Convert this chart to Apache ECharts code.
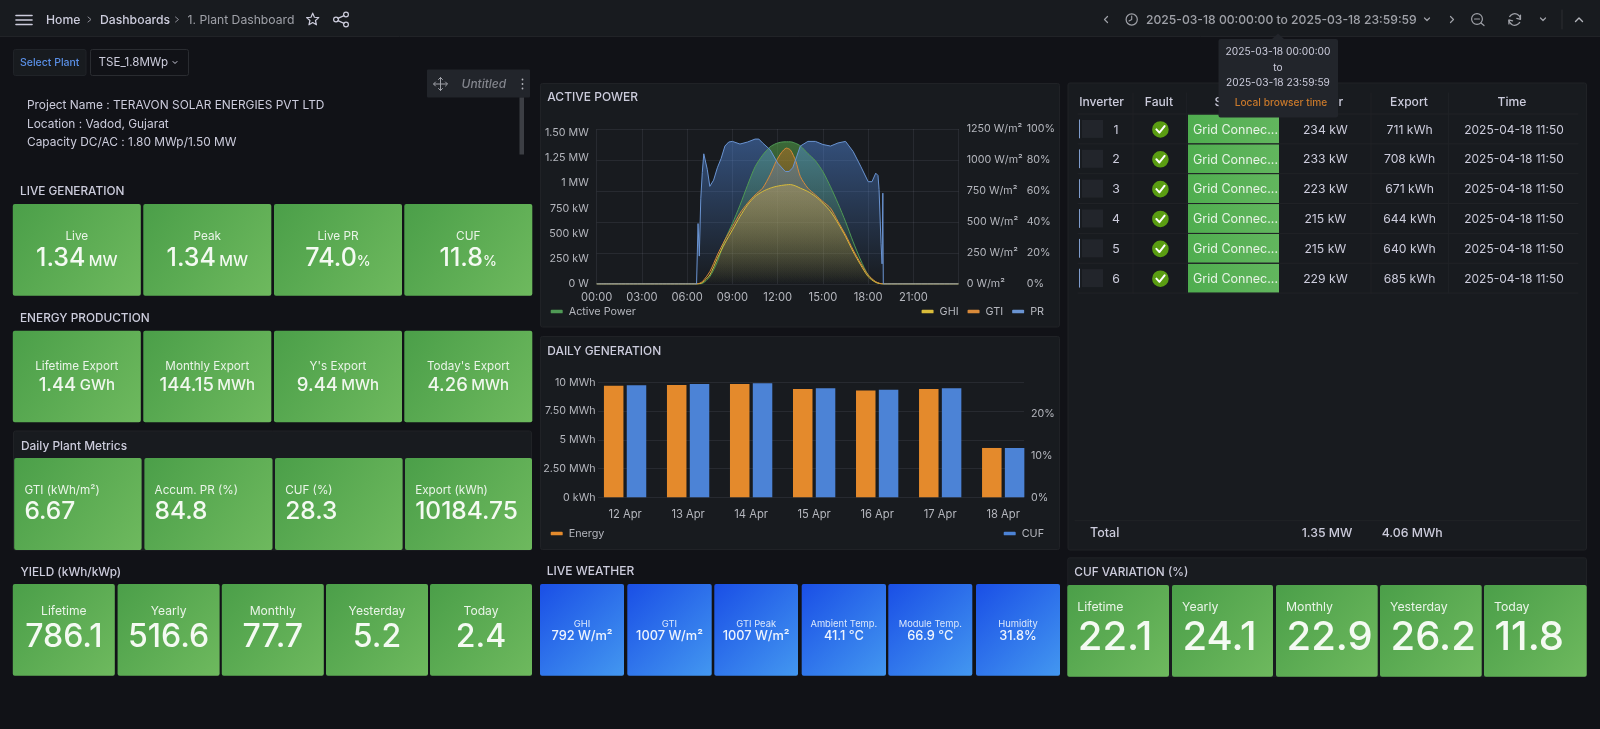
<!DOCTYPE html>
<html><head><meta charset="utf-8">
<style>html,body{margin:0;padding:0;background:#111217;overflow:hidden}#c{width:1600px;height:729px}</style>
<script src="https://cdn.jsdelivr.net/npm/echarts@6/dist/echarts.min.js"></script>
</head><body><div id="c"></div>
<script>
// ---------- chart data ----------
var hours      = [0,6.65,7,7.5,8,8.5,9,9.5,10,10.5,11,11.5,11.9,12.25,12.58,12.85,13.2,13.5,14,14.5,15,15.5,16,16.5,17,17.5,18,18.5,19,23.98];
var activeKw   = [0,0,5,73,221,436,601,782,980,1163,1279,1361,1394,1408,1411,1411,1395,1371,1295,1223,1114,965,799,618,419,238,89,17,0,0];
var ghiWm2     = [0,0,11,73,207,329,436,544,638,706,746,773,787,795,800,802,790,773,746,706,652,585,490,383,261,154,59,13,0,0];
var gtiWm2     = [0,0,19,100,234,356,463,571,652,719,773,881,990,1060,1096,1080,990,867,773,719,665,612,504,396,275,167,73,19,0,0];
var prHours    = [0,6.62,6.72,6.75,6.8,6.9,7,7.1,7.2,7.33,7.5,7.75,8,8.25,8.5,8.75,9,9.5,10,10.5,10.75,11,11.5,12,12.5,12.75,13,13.25,13.5,14,14.5,15,15.5,16,16.5,17,17.5,18,18.25,18.5,18.65,18.72,18.85,18.92,18.97,19,23.98];
var prPct      = [0,0,39,39,18,55,72,84,85,74,63,67,75,81,89,91.6,92,90.3,91.6,93.5,93.5,91,86.6,78,72.6,72.6,75,82,89,92,92,90,89,91,92,85.5,76,66,66,71.5,70,61,26,13,58.6,0,0];
var powerTicks = [0,250,500,750,1000,1250,1500];
var powerTickLabels = ['0 W','250 kW','500 kW','750 kW','1 MW','1.25 MW','1.50 MW'];
var irrTicks   = [0,250,500,750,1000,1250];
var days       = ['12 Apr','13 Apr','14 Apr','15 Apr','16 Apr','17 Apr','18 Apr'];
var dayEnergy  = [9.71,9.77,9.86,9.42,9.28,9.42,4.29];
var dayCuf     = [26.7,27.0,27.2,26.0,25.6,26.0,11.75];
var energyTickLabels = ['0 kWh','2.50 MWh','5 MWh','7.50 MWh','10 MWh'];

// ---------- panel texts ----------
var liveLabels = ['Live','Peak','Live PR','CUF'];
var liveValues = ['1.34','1.34','74.0','11.8'];
var liveUnits  = ['MW','MW','%','%'];
var prodLabels = ['Lifetime Export','Monthly Export',"Y's Export","Today's Export"];
var prodValues = ['1.44','144.15','9.44','4.26'];
var prodUnits  = ['GWh','MWh','MWh','MWh'];
var metricLabels = ['GTI (kWh/m²)','Accum. PR (%)','CUF (%)','Export (kWh)'];
var metricValues = ['6.67','84.8','28.3','10184.75'];
var periodLabels = ['Lifetime','Yearly','Monthly','Yesterday','Today'];
var yieldValues  = ['786.1','516.6','77.7','5.2','2.4'];
var cufValues    = ['22.1','24.1','22.9','26.2','11.8'];
var weatherLabels = ['GHI','GTI','GTI Peak','Ambient Temp.','Module Temp.','Humidity'];
var weatherValues = ['792 W/m²','1007 W/m²','1007 W/m²','41.1 °C','66.9 °C','31.8%'];
var tableHeaders = ['Inverter','Fault','Status','Power','Export','Time'];
var invIds    = [1,2,3,4,5,6];
var invStatus = ['Grid Connec...','Grid Connec...','Grid Connec...','Grid Connec...','Grid Connec...','Grid Connec...'];
var invPower  = ['234 kW','233 kW','223 kW','215 kW','215 kW','229 kW'];
var invExport = ['711 kWh','708 kWh','671 kWh','644 kWh','640 kWh','685 kWh'];
var invTime   = ['2025-04-18 11:50','2025-04-18 11:50','2025-04-18 11:50','2025-04-18 11:50','2025-04-18 11:50','2025-04-18 11:50'];
var totalPower = '1.35 MW', totalExport = '4.06 MWh';
var infoLines = ['Project Name : TERAVON SOLAR ENERGIES PVT LTD','Location : Vadod, Gujarat','Capacity DC/AC : 1.80 MWp/1.50 MW'];
var timeRange = '2025-03-18 00:00:00 to 2025-03-18 23:59:59';

// ---------- drawing helpers ----------
var FONT='Inter', TXT='#ccccdc', G=[];
function T(s,x,y,o){o=o||{};G.push({type:'text',silent:true,z:o.z||1,x:x,y:y+1,style:{text:s,fill:o.c||TXT,fontFamily:FONT,fontSize:o.s||12.3,fontWeight:o.w||400,fontStyle:o.i?'italic':'normal',align:o.a||'left',verticalAlign:'middle',rich:o.rich}});}
function R(x,y,w,h,f,o){o=o||{};G.push({type:'rect',silent:true,z:o.z||0,shape:{x:x,y:y,width:w,height:h,r:o.r||0},style:{fill:f,stroke:o.st||null,lineWidth:o.st?1:0}});}
function L(p,c,w,o){o=o||{};G.push({type:'polyline',silent:true,z:o.z||1,shape:{points:p},style:{stroke:c,lineWidth:w||1,fill:null,lineCap:'round',lineJoin:'round'}});}
function C(x,y,r,f,st,w,o){o=o||{};G.push({type:'circle',silent:true,z:o.z||1,shape:{cx:x,cy:y,r:r},style:{fill:f||null,stroke:st||null,lineWidth:w||0}});}
function grad(a,b){return {type:'linear',x:0,y:0,x2:1,y2:1,colorStops:[{offset:0,color:a},{offset:1,color:b}]};}
var GREEN=grad('#4b9f49','#6eb95e'), BLUE=grad('#1a4fe6','#4397f0');
function panel(x,y,w,h){R(x+.5,y+.5,w-1,h-1,'#181b1f',{r:2,st:'#202226'});}
function tile(x,y,w,h,f){R(x,y,w,h,f,{r:2,z:0});}

// ---------- top bar ----------
R(0,0,1600,36,'#181b1f');
L([[0,36.5],[1600,36.5]],'#212327',1);
[15.5,20,24.5].forEach(function(y){L([[16,y],[32,y]],TXT,1.6);});
T('Home',46,19,{s:12.2,w:500});
L([[88,17],[91,19.5],[88,22]],'#8e8e98',1);
T('Dashboards',100,19,{s:12.2,w:500});
L([[175.5,17],[178.5,19.5],[175.5,22]],'#8e8e98',1);
T('1. Plant Dashboard',187.5,19,{s:12.2,c:'#9fa1a8'});
var star=[];for(var k=0;k<10;k++){var rr=k%2?2.9:6.4,an=-Math.PI/2+k*Math.PI/5;star.push([312.7+rr*Math.cos(an),19.6+rr*Math.sin(an)]);}star.push(star[0]);L(star,TXT,1.2);
C(336,19.5,2.4,null,TXT,1.2);C(346,14.5,2.4,null,TXT,1.2);C(346,24.5,2.4,null,TXT,1.2);L([[338,18.4],[344,15.6]],TXT,1.2);L([[338,20.6],[344,23.4]],TXT,1.2);
L([[1107.5,16.5],[1104.5,19.5],[1107.5,22.5]],'#9fa1a8',1.2);
C(1131.7,19.5,5.6,null,'#9fa1a8',1.2);L([[1131.7,16],[1131.7,19.5],[1129,21]],'#9fa1a8',1.1);
T(timeRange,1146,19,{s:12.15,w:500,c:'#9fa1a8'});
L([[1424.5,18],[1427,20.5],[1429.5,18]],'#9fa1a8',1.2);
L([[1450.5,16.5],[1453.5,19.5],[1450.5,22.5]],'#9fa1a8',1.2);
C(1477,19,5.4,null,'#9fa1a8',1.2);L([[1474.5,19],[1479.5,19]],'#9fa1a8',1.1);L([[1481,23],[1484,25.5]],'#9fa1a8',1.2);
G.push({type:'arc',silent:true,z:1,shape:{cx:1514.7,cy:19.5,r:5.8,startAngle:-2.7,endAngle:-0.1},style:{stroke:'#9fa1a8',lineWidth:1.3,fill:null}});
G.push({type:'arc',silent:true,z:1,shape:{cx:1514.7,cy:19.5,r:5.8,startAngle:0.45,endAngle:3.05},style:{stroke:'#9fa1a8',lineWidth:1.3,fill:null}});
L([[1520.5,15],[1520.5,19.3],[1516.8,18.3]],'#9fa1a8',1.2);L([[1508.9,24],[1508.9,19.8],[1512.6,20.8]],'#9fa1a8',1.2);
L([[1540.5,18],[1543,20.5],[1545.5,18]],'#9fa1a8',1.2);
L([[1562,10],[1562,29]],'#2c2e33',1);
L([[1575.5,21.5],[1579,18],[1582.5,21.5]],'#b4b6bd',1.4);

// ---------- plant selector and info ----------
R(13.5,49.5,72.5,26,'#181b1f',{r:2,st:'#202328'});
T('Select Plant',49.7,62,{s:10.5,w:500,a:'center',c:'#5a8fe6'});
R(90.5,49.5,98,26,'#111217',{r:2,st:'#2a2c31'});
T('TSE_1.8MWp',98.5,62,{s:11.6});
L([[173,61.5],[175,63.5],[177,61.5]],TXT,1);
infoLines.forEach(function(s,i){T(s,27,[105.3,123.7,142][i]-.5,{s:11.9});});
R(427,69.5,103,28,'#22252b',{r:1});
L([[434,84],[447,84]],'#9fa1a8',1);L([[440.5,77.5],[440.5,90.5]],'#9fa1a8',1);
L([[435.5,82],[433.5,84],[435.5,86]],'#9fa1a8',1);L([[445.5,82],[447.5,84],[445.5,86]],'#9fa1a8',1);L([[438.5,79.5],[440.5,77.5],[442.5,79.5]],'#9fa1a8',1);L([[438.5,88.5],[440.5,90.5],[442.5,88.5]],'#9fa1a8',1);
T('Untitled',461.5,83.5,{s:12,i:true,w:500,c:'#83858d'});
[79.5,84,88.5].forEach(function(y){C(522.5,y,.9,'#b4b6bd');});
R(519.5,97.5,4.5,57,'#3c3e44');

// ---------- left column tiles ----------
var rowX=[12.8,143.3,274,404.3], rowW=128;
T('LIVE GENERATION',20,190.7,{s:11.8,w:500});
liveLabels.forEach(function(l,i){
  tile(rowX[i],204,rowW,91.7,GREEN);
  T(l,rowX[i]+rowW/2,235,{s:11.8,a:'center',c:'#eaf4e8'});
  T('{v|'+liveValues[i]+'}'+(liveUnits[i].length>1?' ':'')+'{u|'+liveUnits[i]+'}',rowX[i]+rowW/2,257.5,{a:'center',rich:{
    v:{fontFamily:FONT,fontSize:25,fontWeight:500,fill:'#f4faf2',color:'#f4faf2'},
    u:{fontFamily:FONT,fontSize:liveUnits[i].length>1?15:14,fontWeight:500,fill:'#f4faf2',color:'#f4faf2',verticalAlign:'bottom',padding:[0,0,2,0]}}});
});
T('ENERGY PRODUCTION',20,317.3,{s:11.8,w:500});
prodLabels.forEach(function(l,i){
  tile(rowX[i],330.7,rowW,91.6,GREEN);
  T(l,rowX[i]+rowW/2,365,{s:11.7,a:'center',c:'#eaf4e8'});
  T('{v|'+prodValues[i]+'} {u|'+prodUnits[i]+'}',rowX[i]+rowW/2,384,{a:'center',rich:{
    v:{fontFamily:FONT,fontSize:18.5,fontWeight:500,fill:'#f0f7ee',color:'#f0f7ee'},
    u:{fontFamily:FONT,fontSize:15,fontWeight:500,fill:'#f0f7ee',color:'#f0f7ee'}}});
});
panel(13,430.5,519,120);
T('Daily Plant Metrics',21,445,{s:11.9,w:500});
var mX=[14.2,144.4,275,405], mW=[127.4,128.1,127.6,127];
metricLabels.forEach(function(l,i){
  tile(mX[i],458,mW[i],92,GREEN);
  T(l,mX[i]+10.2,489,{s:11.7,c:'#eaf4e8'});
  T(metricValues[i],mX[i]+10.2,510.7,{s:24.5,w:500,c:'#f4faf2'});
});
T('YIELD (kWh/kWp)',20.5,571,{s:11.8,w:500});
var yX=[12.8,117.6,221.8,326,430], yW=102;
periodLabels.forEach(function(l,i){
  tile(yX[i],584,yW,91.7,GREEN);
  T(l,yX[i]+yW/2,610.7,{s:12.1,a:'center',c:'#eaf4e8'});
  T(yieldValues[i],yX[i]+yW/2,636.7,{s:32,w:500,a:'center',c:'#f4faf2'});
});

// ---------- middle column ----------
panel(540,83,520,244.5);
T('ACTIVE POWER',547.3,96.7,{s:12,w:500});
panel(540,336,520,214);
T('DAILY GENERATION',547.3,350,{s:11.9,w:500});
T('LIVE WEATHER',546.7,570.7,{s:12,w:500});
var wX=[540,627.3,714.3,801.7,888.3,976], wW=[84,84.4,83.7,84.3,84,84];
weatherLabels.forEach(function(l,i){
  tile(wX[i],584,wW[i],91.7,BLUE);
  T(l,wX[i]+wW[i]/2,622.7,{s:9.4,a:'center',c:'#dbe8fb'});
  T(weatherValues[i],wX[i]+wW[i]/2,635,{s:12.8,w:500,a:'center',c:'#eef4fd'});
});

// ---------- right column: table ----------
panel(1067.5,82.5,519.5,468);
var colC=[1101.6,1159,1233,1325,1409,1512];
tableHeaders.forEach(function(h,i){T(h,colC[i],101.7,{s:12.1,w:500,a:'center'});});
var rowH=29.85, rowTop=114;
L([[1078,114],[1578,114]],'#212327',1);
[1133,1186.6,1371,1448.5].forEach(function(x){L([[x,93],[x,114+6*rowH]],'#1e2125',1);});
invIds.forEach(function(id,i){
  var y0=rowTop+i*rowH, cy=y0+rowH/2;
  L([[1078,y0+rowH],[1578,y0+rowH]],'#212327',1);
  L([[1079.5,cy-9],[1079.5,cy+9]],'#7f9ccc',1);
  R(1082,cy-9,21,18,'#22252b');
  T(String(id),1116,cy,{s:12.3,a:'center'});
  C(1160.4,cy+.5,8.3,'#5a9d12');
  L([[1156.4,cy+.5],[1159.4,cy+3.7],[1164.6,cy-2.9]],'#ffffff',2);
  R(1188,y0+.4,91,rowH-.8,{type:'linear',x:0,y:0,x2:1,y2:0,colorStops:[{offset:0,color:'#4fad4f'},{offset:1,color:'#62b65e'}]});
  T(invStatus[i],1193,cy,{s:12.5,c:'#e8f3e6'});
  T(invPower[i],1325.4,cy,{s:12.2,a:'center'});
  T(invExport[i],1409.6,cy,{s:12.2,a:'center'});
  T(invTime[i],1514,cy,{s:12,a:'center'});
});
L([[1075,520.7],[1580,520.7]],'#212327',1);
T('Total',1090,532.3,{s:12.5,w:500});
T(totalPower,1301.7,532.3,{s:12.3,w:500});
T(totalExport,1381.7,532.3,{s:12.3,w:500});

panel(1067.3,557.3,519.7,119.5);
T('CUF VARIATION (%)',1074.3,571.7,{s:11.8,w:500});
var cX=[1067.3,1172,1276,1380,1484], cW=[101.7,101,101.7,101.7,102.7];
periodLabels.forEach(function(l,i){
  tile(cX[i],585,cW[i],91.7,GREEN);
  T(l,cX[i]+10,606.7,{s:12.3,c:'#eaf4e8'});
  T(cufValues[i],cX[i]+10.5,636.7,{s:40,w:500,c:'#f4faf2'});
});

// ---------- time tooltip ----------
G.push({type:'polygon',silent:true,z:9,shape:{points:[[1272,39],[1278,33.5],[1284,39]]},style:{fill:'#22252b'}});
R(1218.5,39,119.5,78.5,'#22252b',{r:2,z:9});
T('2025-03-18 00:00:00',1278,50.7,{s:10.2,a:'center',z:10});
T('to',1278,66.7,{s:10.2,a:'center',z:10});
T('2025-03-18 23:59:59',1278,82.3,{s:10.2,a:'center',z:10});
T('Local browser time',1281,102.3,{s:10.2,w:500,a:'center',c:'#c8782b',z:10});

// ---------- charts ----------
function pairs(xs,ys){return xs.map(function(x,i){return [x,ys[i]];});}
function vfade(rgb,top){return {type:'linear',x:0,y:0,x2:0,y2:1,colorStops:[{offset:0,color:'rgba('+rgb+','+top+')'},{offset:1,color:'rgba('+rgb+',0)'}]};}
function lineSeries(name,xs,ys,axis,color,rgb,top,smooth,w){
  return {name:name,type:'line',xAxisIndex:0,yAxisIndex:axis,data:pairs(xs,ys),showSymbol:false,symbol:'none',smooth:smooth,
    lineStyle:{color:color,width:w||1},itemStyle:{color:color},areaStyle:{color:vfade(rgb,top)},silent:true,animation:false,z:2};
}
var AX={color:'#b4b6bd',fontFamily:FONT,fontSize:10.7};
var AXX={color:'#b4b6bd',fontFamily:FONT,fontSize:11.2};
var LEG={color:'#b4b6bd',fontFamily:FONT,fontSize:10.8,padding:[0,0,0,1]};
var option={
  animation:false,
  backgroundColor:'#111217',
  graphic:{elements:G},
  grid:[
    {left:596.7,top:129,width:362,height:155},
    {left:598,top:382.3,width:426,height:115}
  ],
  xAxis:[
    {type:'value',gridIndex:0,min:0,max:24,interval:3,
     axisLine:{show:false},axisTick:{show:false},
     axisLabel:Object.assign({},AXX,{margin:8,showMaxLabel:false,formatter:function(v){return v>=24?'':(v<10?'0':'')+v+':00';}}),
     splitLine:{show:true,lineStyle:{color:'rgba(204,204,220,0.09)',width:1}}},
    {type:'value',gridIndex:1,min:-0.43,max:6.33,
     axisLine:{show:false},axisTick:{show:false},splitLine:{show:false},
     axisLabel:Object.assign({},AXX,{margin:12,customValues:days.map(function(d,i){return i;}),formatter:function(v){return days[v];}})}
  ],
  yAxis:[
    {type:'value',gridIndex:0,min:0,max:1538,interval:250,position:'left',
     axisLine:{show:false},axisTick:{show:false},splitLine:{show:false},
     axisLabel:Object.assign({},AX,{margin:8,padding:[2,0,0,0],formatter:function(v){var i=powerTicks.indexOf(v);return i<0?'':powerTickLabels[i];}})},
    {type:'value',gridIndex:0,min:0,max:1250,interval:250,position:'right',
     axisLine:{show:false},axisTick:{show:false},
     axisLabel:Object.assign({},AX,{margin:8,padding:[2,0,0,0],formatter:function(v){return irrTicks.indexOf(v)<0?'':v+' W/m²';}}),
     splitLine:{show:true,lineStyle:{color:'rgba(204,204,220,0.09)',width:1}}},
    {type:'value',gridIndex:0,min:0,max:100,interval:20,position:'right',offset:60,
     axisLine:{show:false},axisTick:{show:false},splitLine:{show:false},
     axisLabel:Object.assign({},AX,{margin:8,padding:[2,0,0,0],formatter:'{value}%'})},
    {type:'value',gridIndex:1,min:0,max:10,interval:2.5,position:'left',
     axisLine:{show:false},axisTick:{show:false},
     axisLabel:Object.assign({},AX,{margin:2.5,padding:[2,0,0,0],formatter:function(v){return energyTickLabels[v/2.5];}}),
     splitLine:{show:true,lineStyle:{color:'rgba(204,204,220,0.09)',width:1}}},
    {type:'value',gridIndex:1,min:0,max:27.4,interval:10,position:'right',
     axisLine:{show:false},axisTick:{show:false},splitLine:{show:false},
     axisLabel:Object.assign({},AX,{margin:7,padding:[2,0,0,0],formatter:function(v){return v%10===0?v+'%':'';}})}
  ],
  legend:[
    {left:550.7,top:306,padding:0,data:['Active Power'],itemWidth:12,itemHeight:3.5,icon:'roundRect',textStyle:LEG},
    {right:556,top:306,padding:0,data:['GHI','GTI','PR'],itemWidth:12,itemHeight:3.5,itemGap:9,icon:'roundRect',textStyle:LEG},
    {left:550.7,top:528,padding:0,data:['Energy'],itemWidth:12,itemHeight:3.5,icon:'roundRect',textStyle:LEG},
    {right:556,top:528,padding:0,data:['CUF'],itemWidth:12,itemHeight:3.5,icon:'roundRect',textStyle:LEG}
  ],
  series:[
    lineSeries('Active Power',hours,activeKw,0,'#4f9a55','86,166,75',0.8,0.25),
    lineSeries('GHI',hours,ghiWm2,1,'#d9bc3a','229,192,44',0.62,0.25),
    lineSeries('GTI',hours,gtiWm2,1,'#d98a3a','232,116,26',0.55,0.25),
    lineSeries('PR',prHours,prPct,2,'#6a94d2','87,148,242',0.62,false,1),
    {name:'Energy',type:'bar',xAxisIndex:1,yAxisIndex:3,data:pairs(days.map(function(d,i){return i;}),dayEnergy),barWidth:19.5,barGap:'17%',itemStyle:{color:'#e48a2c',borderRadius:0},silent:true},
    {name:'CUF',type:'bar',xAxisIndex:1,yAxisIndex:4,data:pairs(days.map(function(d,i){return i;}),dayCuf),barWidth:19.5,barGap:'17%',itemStyle:{color:'#4c83d6',borderRadius:0},silent:true}
  ]
};
var chart=echarts.init(document.getElementById('c'),null,{renderer:'canvas',width:1600,height:729});
chart.setOption(option);
</script></body></html>
